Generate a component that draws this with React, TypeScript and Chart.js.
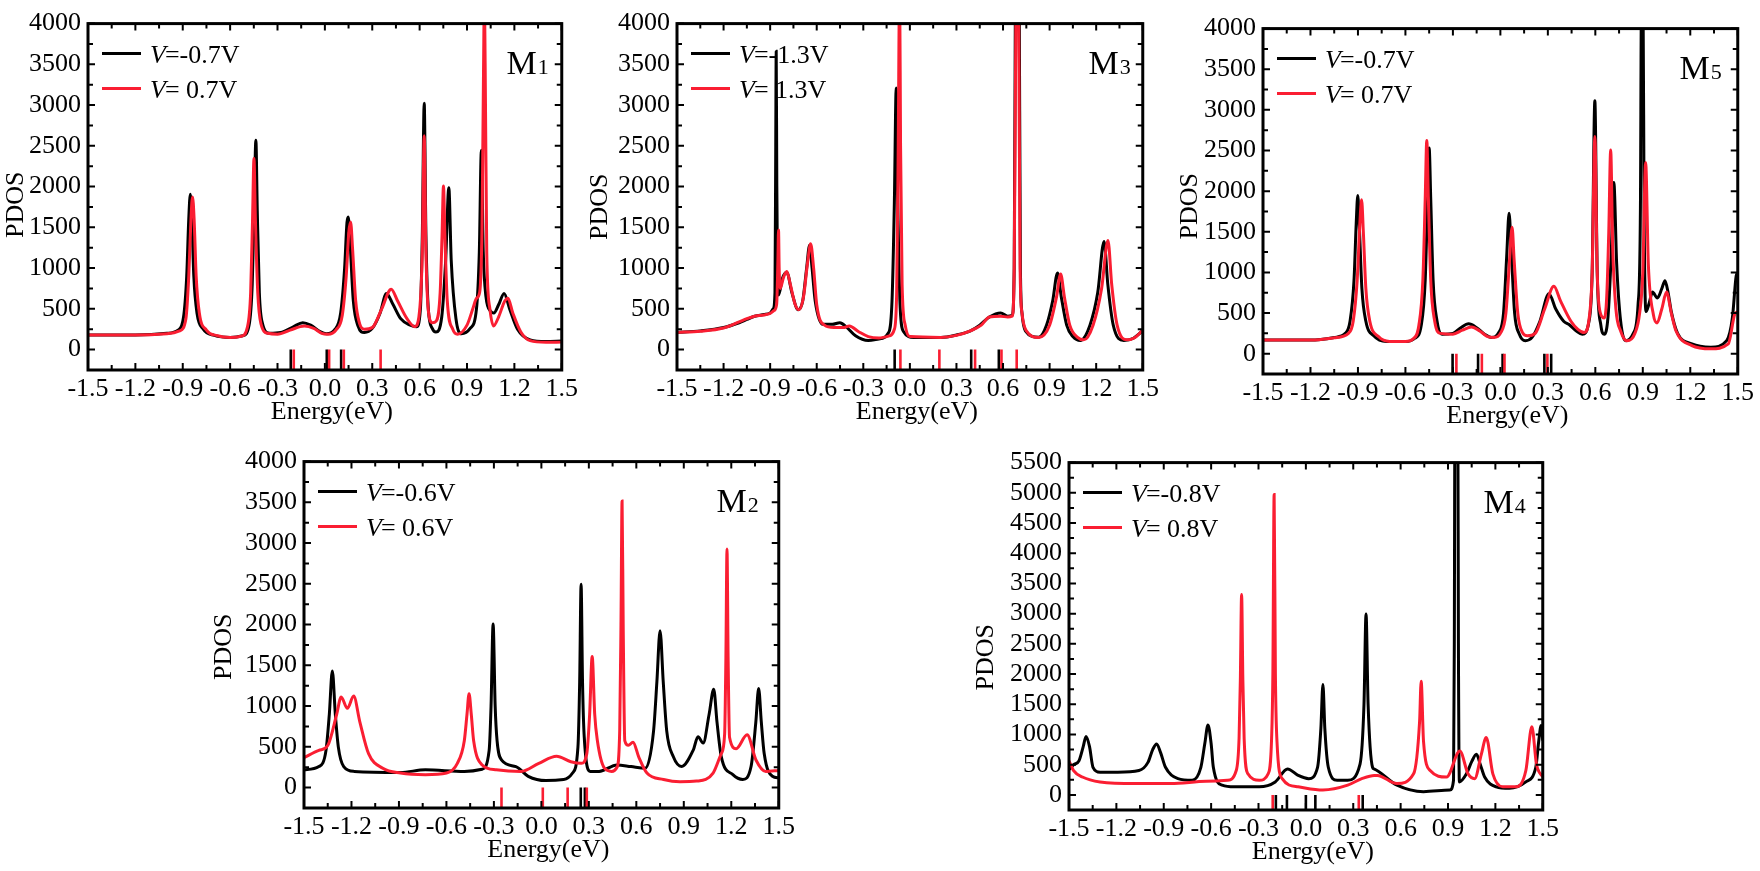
import React, { useEffect, useRef } from "react";
import { Chart, registerables } from "chart.js";

Chart.register(...registerables);

type Pt = [number, number];

// ---------- axis ticks ----------
const X_TICKS = [-1.5, -1.2, -0.9, -0.6, -0.3, 0, 0.3, 0.6, 0.9, 1.2, 1.5];
const Y_TICKS_4000 = [0, 500, 1000, 1500, 2000, 2500, 3000, 3500, 4000];
const Y_TICKS_5500 = [0, 500, 1000, 1500, 2000, 2500, 3000, 3500, 4000, 4500, 5000, 5500];
const Y_MIN = -250;

// ---------- M1 ----------
const M1_LEGEND = ["=-0.7V", "= 0.7V"];
const M1_NEG: Pt[] = [[-1.5,180],[-1.2,180],[-1.0,200],[-0.93,240],[-0.895,400],[-0.875,900],[-0.862,1600],[-0.852,1906],[-0.842,1600],[-0.83,900],[-0.81,450],[-0.77,250],[-0.7,175],[-0.6,150],[-0.52,170],[-0.48,300],[-0.46,800],[-0.448,1700],[-0.437,2570],[-0.428,1700],[-0.415,700],[-0.395,320],[-0.35,200],[-0.28,210],[-0.2,280],[-0.14,330],[-0.09,300],[-0.03,220],[0.01,195],[0.06,240],[0.1,450],[0.125,1000],[0.14,1560],[0.148,1627],[0.16,1300],[0.18,600],[0.21,290],[0.25,210],[0.3,260],[0.35,450],[0.39,690],[0.43,560],[0.48,380],[0.54,300],[0.58,280],[0.605,500],[0.617,1400],[0.629,3023],[0.64,1400],[0.655,500],[0.68,260],[0.703,215],[0.74,400],[0.765,1100],[0.785,1986],[0.8,1100],[0.83,380],[0.864,195],[0.92,260],[0.96,500],[0.978,1200],[0.991,2445],[1.003,1200],[1.02,650],[1.05,470],[1.07,450],[1.1,550],[1.135,690],[1.17,500],[1.22,250],[1.3,120],[1.4,100],[1.5,105]];
const M1_POS: Pt[] = [[-1.5,180],[-1.2,180],[-1.0,195],[-0.92,230],[-0.88,380],[-0.862,900],[-0.848,1600],[-0.838,1874],[-0.828,1600],[-0.815,900],[-0.795,450],[-0.75,240],[-0.68,170],[-0.6,150],[-0.53,165],[-0.49,280],[-0.47,700],[-0.458,1600],[-0.449,2345],[-0.44,1600],[-0.425,700],[-0.405,320],[-0.36,200],[-0.3,190],[-0.22,240],[-0.13,290],[-0.07,260],[-0.02,200],[0.02,190],[0.07,240],[0.11,420],[0.135,900],[0.152,1450],[0.163,1567],[0.175,1250],[0.195,600],[0.22,320],[0.25,250],[0.3,270],[0.36,500],[0.42,742],[0.46,600],[0.52,380],[0.57,280],[0.6,480],[0.617,1200],[0.629,2624],[0.64,1200],[0.655,480],[0.68,330],[0.705,350],[0.73,700],[0.742,1400],[0.751,2006],[0.76,1400],[0.775,600],[0.81,250],[0.84,190],[0.9,300],[0.94,520],[0.96,630],[0.98,700],[0.995,1500],[1.005,3500],[1.01,4300],[1.015,3500],[1.025,1200],[1.045,500],[1.068,290],[1.1,400],[1.14,600],[1.159,630],[1.19,450],[1.24,220],[1.3,110],[1.4,90],[1.5,92]];
const M1_NEG_LEVELS = [-0.216, 0.012, 0.103];
const M1_POS_LEVELS = [-0.197, 0.027, 0.12, 0.353];

// ---------- M3 ----------
const M3_LEGEND = ["=-1.3V", "= 1.3V"];
const M3_NEG: Pt[] = [[-1.5,211],[-1.35,230],[-1.2,271],[-1.1,330],[-1.05,370],[-1.0,410],[-0.94,430],[-0.9,450],[-0.88,500],[-0.869,700],[-0.864,2500],[-0.861,3661],[-0.857,2000],[-0.852,800],[-0.846,670],[-0.82,880],[-0.793,950],[-0.76,700],[-0.72,490],[-0.69,600],[-0.665,1000],[-0.646,1280],[-0.63,1000],[-0.61,600],[-0.561,311],[-0.5,310],[-0.451,330],[-0.41,280],[-0.35,170],[-0.268,112],[-0.2,130],[-0.14,200],[-0.115,600],[-0.1,1800],[-0.088,3210],[-0.078,1800],[-0.062,500],[-0.04,220],[0.024,150],[0.2,150],[0.3,180],[0.39,231],[0.45,300],[0.512,400],[0.585,450],[0.63,410],[0.659,420],[0.672,1000],[0.68,4500],[0.686,6000],[0.698,6000],[0.704,4500],[0.712,1000],[0.722,450],[0.744,231],[0.829,152],[0.88,300],[0.92,600],[0.951,941],[0.975,650],[1.01,300],[1.05,160],[1.098,112],[1.16,300],[1.21,700],[1.251,1328],[1.275,800],[1.31,300],[1.378,112],[1.44,140],[1.5,231]];
const M3_POS: Pt[] = [[-1.5,211],[-1.35,225],[-1.2,265],[-1.1,340],[-1.05,380],[-1.0,410],[-0.94,425],[-0.9,445],[-0.875,480],[-0.858,560],[-0.85,1100],[-0.846,1468],[-0.842,1000],[-0.835,750],[-0.815,880],[-0.793,957],[-0.77,800],[-0.74,560],[-0.715,490],[-0.685,650],[-0.66,1050],[-0.639,1300],[-0.62,1000],[-0.6,550],[-0.55,300],[-0.49,270],[-0.43,270],[-0.39,290],[-0.33,220],[-0.268,160],[-0.2,143],[-0.13,170],[-0.1,250],[-0.085,700],[-0.075,2500],[-0.066,4500],[-0.06,2500],[-0.05,800],[-0.03,300],[0.0,160],[0.2,150],[0.3,175],[0.39,231],[0.46,300],[0.512,400],[0.585,410],[0.63,400],[0.659,410],[0.672,1000],[0.684,4500],[0.692,6000],[0.7,4500],[0.71,1000],[0.722,450],[0.75,231],[0.83,150],[0.9,300],[0.945,650],[0.971,929],[0.995,650],[1.03,300],[1.08,150],[1.12,120],[1.18,300],[1.235,750],[1.276,1340],[1.3,800],[1.335,300],[1.4,120],[1.45,150],[1.5,240]];
const M3_NEG_LEVELS = [-0.098, 0.395, 0.573];
const M3_POS_LEVELS = [-0.061, 0.19, 0.42, 0.59, 0.688];

// ---------- M5 ----------
const M5_LEGEND = ["=-0.7V", "= 0.7V"];
const M5_NEG: Pt[] = [[-1.5,167],[-1.2,167],[-1.05,200],[-0.98,250],[-0.95,400],[-0.925,900],[-0.911,1600],[-0.901,1946],[-0.89,1500],[-0.875,800],[-0.85,400],[-0.8,220],[-0.72,150],[-0.6,150],[-0.54,190],[-0.5,350],[-0.475,900],[-0.46,1900],[-0.45,2532],[-0.44,1900],[-0.425,900],[-0.4,400],[-0.369,240],[-0.3,250],[-0.25,320],[-0.201,367],[-0.15,320],[-0.1,240],[-0.057,200],[-0.01,260],[0.02,500],[0.04,1200],[0.055,1727],[0.068,1300],[0.09,500],[0.12,240],[0.158,160],[0.2,200],[0.25,400],[0.307,738],[0.35,550],[0.4,400],[0.434,359],[0.48,280],[0.518,240],[0.56,400],[0.58,1000],[0.597,3111],[0.612,1000],[0.635,350],[0.657,240],[0.68,450],[0.7,1200],[0.717,2106],[0.735,1100],[0.76,400],[0.793,160],[0.84,250],[0.87,600],[0.885,1800],[0.891,4200],[0.902,4200],[0.908,1800],[0.92,518],[0.94,620],[0.961,758],[0.992,686],[1.02,800],[1.04,897],[1.06,750],[1.08,518],[1.12,250],[1.21,120],[1.33,80],[1.43,160],[1.466,439],[1.49,957],[1.5,1000]];
const M5_POS: Pt[] = [[-1.5,167],[-1.2,167],[-1.05,195],[-0.96,250],[-0.93,400],[-0.905,900],[-0.888,1600],[-0.877,1894],[-0.866,1500],[-0.85,800],[-0.825,400],[-0.77,210],[-0.7,150],[-0.6,150],[-0.55,185],[-0.515,350],[-0.49,900],[-0.475,1900],[-0.465,2624],[-0.455,1900],[-0.44,900],[-0.415,400],[-0.38,250],[-0.3,240],[-0.24,290],[-0.182,327],[-0.13,280],[-0.08,210],[-0.04,200],[0.0,250],[0.035,500],[0.058,1150],[0.074,1555],[0.087,1150],[0.11,500],[0.14,260],[0.17,220],[0.22,250],[0.28,550],[0.338,830],[0.38,650],[0.446,399],[0.49,300],[0.53,260],[0.56,420],[0.58,1000],[0.597,2672],[0.612,1000],[0.632,500],[0.657,439],[0.672,700],[0.685,1500],[0.697,2505],[0.71,1300],[0.73,550],[0.76,280],[0.8,160],[0.85,250],[0.88,500],[0.9,1000],[0.918,2353],[0.935,1100],[0.967,479],[0.99,379],[1.02,550],[1.05,758],[1.08,500],[1.11,279],[1.21,100],[1.33,60],[1.44,120],[1.48,479],[1.5,520]];
const M5_NEG_LEVELS = [-0.302, -0.141, 0.014, 0.278, 0.321];
const M5_POS_LEVELS = [-0.278, -0.117, 0.026, 0.297];

// ---------- M2 ----------
const M2_LEGEND = ["=-0.6V", "= 0.6V"];
const M2_NEG: Pt[] = [[-1.5,218],[-1.406,258],[-1.361,457],[-1.34,900],[-1.321,1430],[-1.302,900],[-1.283,497],[-1.249,258],[-1.182,199],[-0.89,187],[-0.733,218],[-0.487,199],[-0.374,226],[-0.33,457],[-0.318,1000],[-0.305,2006],[-0.292,1000],[-0.28,576],[-0.251,338],[-0.161,258],[-0.083,139],[0.029,87],[0.141,99],[0.197,179],[0.231,497],[0.242,1300],[0.251,2494],[0.26,1300],[0.271,616],[0.309,199],[0.365,199],[0.478,278],[0.567,258],[0.657,239],[0.709,697],[0.73,1300],[0.75,1924],[0.77,1300],[0.792,697],[0.834,378],[0.886,259],[0.959,458],[0.99,625],[1.022,546],[1.06,900],[1.089,1207],[1.11,800],[1.137,378],[1.21,159],[1.273,100],[1.325,259],[1.355,800],[1.373,1215],[1.39,800],[1.408,418],[1.46,139],[1.5,120]];
const M2_POS: Pt[] = [[-1.5,369],[-1.406,457],[-1.35,516],[-1.294,894],[-1.265,1112],[-1.226,973],[-1.186,1124],[-1.148,814],[-1.092,417],[-1.002,238],[-0.89,179],[-0.733,159],[-0.599,179],[-0.531,298],[-0.487,576],[-0.47,900],[-0.457,1152],[-0.443,900],[-0.428,576],[-0.374,278],[-0.285,218],[-0.128,199],[-0.016,298],[0.096,385],[0.186,318],[0.253,298],[0.287,417],[0.305,900],[0.321,1609],[0.337,900],[0.354,576],[0.399,238],[0.444,199],[0.478,250],[0.495,700],[0.503,2000],[0.51,3518],[0.517,2000],[0.527,578],[0.55,520],[0.579,558],[0.615,378],[0.667,179],[0.772,100],[0.876,72],[0.98,80],[1.085,179],[1.137,418],[1.158,657],[1.166,1600],[1.173,2928],[1.18,1600],[1.189,618],[1.231,478],[1.3,649],[1.356,339],[1.418,199],[1.5,211]];
const M2_NEG_LEVELS = [0.249, 0.275];
const M2_POS_LEVELS = [-0.252, 0.009, 0.166, 0.287];

// ---------- M4 ----------
const M4_LEGEND = ["=-0.8V", "= 0.8V"];
const M4_NEG: Pt[] = [[-1.5,420],[-1.47,500],[-1.437,564],[-1.41,800],[-1.392,968],[-1.37,800],[-1.348,457],[-1.303,376],[-1.191,376],[-1.057,403],[-1.0,538],[-0.97,750],[-0.945,844],[-0.92,700],[-0.889,457],[-0.81,269],[-0.72,242],[-0.665,457],[-0.64,850],[-0.62,1156],[-0.6,850],[-0.586,457],[-0.53,161],[-0.452,134],[-0.295,134],[-0.194,215],[-0.116,430],[-0.049,323],[0.018,269],[0.074,457],[0.095,1100],[0.108,1828],[0.12,1100],[0.142,457],[0.198,242],[0.265,242],[0.343,511],[0.368,1500],[0.381,2994],[0.394,1500],[0.422,457],[0.431,430],[0.577,161],[0.745,54],[0.912,81],[0.935,242],[0.94,2500],[0.944,6500],[0.962,6500],[0.966,2500],[0.972,215],[1.017,349],[1.05,550],[1.08,672],[1.105,500],[1.132,296],[1.205,134],[1.289,108],[1.393,215],[1.456,457],[1.475,900],[1.49,1150],[1.5,900]];
const M4_POS: Pt[] = [[-1.5,564],[-1.471,403],[-1.415,296],[-1.303,215],[-1.079,188],[-0.855,188],[-0.631,226],[-0.497,242],[-0.441,403],[-0.423,941],[-0.415,1900],[-0.407,3317],[-0.399,1900],[-0.391,941],[-0.367,349],[-0.295,242],[-0.239,349],[-0.217,941],[-0.209,2000],[-0.201,4973],[-0.193,2000],[-0.183,887],[-0.15,269],[-0.049,134],[0.108,81],[0.265,161],[0.354,269],[0.433,323],[0.452,323],[0.577,188],[0.682,349],[0.72,1210],[0.73,1882],[0.745,887],[0.787,403],[0.891,296],[0.975,726],[1.027,349],[1.069,269],[1.111,672],[1.142,952],[1.184,349],[1.247,134],[1.331,134],[1.393,403],[1.431,1129],[1.46,511],[1.5,296]];
const M4_NEG_LEVELS = [-0.19, -0.12, 0.0, 0.06, 0.36];
const M4_POS_LEVELS = [-0.21, 0.335];

// ---------- styling / layout ----------
const FONT = '"Liberation Serif", "Times New Roman", Times, serif';
const FS = 26;
const BLACK = "#000000";
const RED = "#fa1e32";
const PADL = 100;
const PADR = 16;
const PADT = 14;
const PADB = 60;

interface Panel {
  name: string;
  sub: string;
  legend: string[];
  neg: Pt[];
  pos: Pt[];
  negLevels: number[];
  posLevels: number[];
  yTicks: number[];
  box: { left: number; top: number; right: number; bottom: number };
  pdosDx: number;
  pdosDy: number;
  labelGap: number;
}

const PANELS: Panel[] = [
  { name: "M", sub: "1", legend: M1_LEGEND, neg: M1_NEG, pos: M1_POS, negLevels: M1_NEG_LEVELS, posLevels: M1_POS_LEVELS, yTicks: Y_TICKS_4000, box: { left: 88, top: 15, right: 566, bottom: 370 }, pdosDx: 72, pdosDy: 8, labelGap: 13 },
  { name: "M", sub: "3", legend: M3_LEGEND, neg: M3_NEG, pos: M3_POS, negLevels: M3_NEG_LEVELS, posLevels: M3_POS_LEVELS, yTicks: Y_TICKS_4000, box: { left: 677, top: 15, right: 1147, bottom: 370 }, pdosDx: 77, pdosDy: 10, labelGap: 12 },
  { name: "M", sub: "5", legend: M5_LEGEND, neg: M5_NEG, pos: M5_POS, negLevels: M5_NEG_LEVELS, posLevels: M5_POS_LEVELS, yTicks: Y_TICKS_4000, box: { left: 1263, top: 20, right: 1742, bottom: 374 }, pdosDx: 73, pdosDy: 5, labelGap: 16 },
  { name: "M", sub: "2", legend: M2_LEGEND, neg: M2_NEG, pos: M2_POS, negLevels: M2_NEG_LEVELS, posLevels: M2_POS_LEVELS, yTicks: Y_TICKS_4000, box: { left: 304, top: 453, right: 783, bottom: 808 }, pdosDx: 80, pdosDy: 12, labelGap: 20 },
  { name: "M", sub: "4", legend: M4_LEGEND, neg: M4_NEG, pos: M4_POS, negLevels: M4_NEG_LEVELS, posLevels: M4_POS_LEVELS, yTicks: Y_TICKS_5500, box: { left: 1069, top: 454, right: 1547, bottom: 810 }, pdosDx: 83, pdosDy: 21, labelGap: 17 },
];

function levelData(levels: number[]) {
  const out: { x: number; y: number | null }[] = [];
  for (const v of levels) {
    out.push({ x: v, y: Y_MIN });
    out.push({ x: v, y: 0 });
    out.push({ x: v, y: null });
  }
  return out;
}

function makeDecor(p: Panel) {
  return {
    id: "decor",
    beforeDatasetsDraw(chart: any) {
      const { ctx, chartArea: a } = chart;
      ctx.save();
      const rows = [
        { color: BLACK, text: p.legend[0], y: a.top + 30 },
        { color: RED, text: p.legend[1], y: a.top + 65 },
      ];
      for (const r of rows) {
        ctx.strokeStyle = r.color;
        ctx.lineWidth = 3;
        ctx.beginPath();
        ctx.moveTo(a.left + 14, r.y);
        ctx.lineTo(a.left + 53, r.y);
        ctx.stroke();
        ctx.fillStyle = BLACK;
        ctx.textAlign = "left";
        ctx.textBaseline = "alphabetic";
        ctx.font = `italic ${FS}px ${FONT}`;
        const tx = a.left + 62;
        ctx.fillText("V", tx, r.y + 9);
        const w = ctx.measureText("V").width;
        ctx.font = `${FS}px ${FONT}`;
        ctx.fillText(r.text, tx + w - 1, r.y + 9);
      }
      ctx.restore();
    },
    afterDatasetsDraw(chart: any) {
      const { ctx, chartArea: a, scales } = chart;
      const xs = scales.x;
      const ys = scales.y;
      ctx.save();
      ctx.strokeStyle = BLACK;
      ctx.lineWidth = 3;
      ctx.strokeRect(a.left, a.top, a.right - a.left, a.bottom - a.top);
      ctx.lineWidth = 2;
      const xMinor: number[] = [];
      for (let i = 0; i < X_TICKS.length - 1; i++) xMinor.push((X_TICKS[i] + X_TICKS[i + 1]) / 2);
      const drawX = (v: number, len: number) => {
        const px = xs.getPixelForValue(v);
        ctx.beginPath();
        ctx.moveTo(px, a.bottom);
        ctx.lineTo(px, a.bottom - len);
        ctx.moveTo(px, a.top);
        ctx.lineTo(px, a.top + len);
        ctx.stroke();
      };
      X_TICKS.forEach((v) => drawX(v, 7));
      xMinor.forEach((v) => drawX(v, 5));
      const yMinor: number[] = [];
      for (let i = 0; i < p.yTicks.length - 1; i++) yMinor.push((p.yTicks[i] + p.yTicks[i + 1]) / 2);
      const drawY = (v: number, len: number) => {
        const py = ys.getPixelForValue(v);
        ctx.beginPath();
        ctx.moveTo(a.left, py);
        ctx.lineTo(a.left + len, py);
        ctx.moveTo(a.right, py);
        ctx.lineTo(a.right - len, py);
        ctx.stroke();
      };
      p.yTicks.forEach((v) => drawY(v, 7));
      yMinor.forEach((v) => drawY(v, 5));
      ctx.fillStyle = BLACK;
      ctx.textBaseline = "alphabetic";
      ctx.textAlign = "right";
      ctx.font = `22px ${FONT}`;
      const subW = ctx.measureText(p.sub).width;
      const rx = a.right - p.labelGap;
      const by = a.top + 50;
      ctx.fillText(p.sub, rx, by);
      ctx.font = `34px ${FONT}`;
      ctx.fillText(p.name, rx - subW - 1, by);
      ctx.restore();
    },
    afterDraw(chart: any) {
      const { ctx, chartArea: a } = chart;
      ctx.save();
      ctx.fillStyle = BLACK;
      ctx.font = `${FS}px ${FONT}`;
      ctx.textAlign = "center";
      ctx.textBaseline = "middle";
      ctx.fillText("Energy(eV)", (a.left + a.right) / 2 + 7, a.bottom + 42);
      ctx.translate(a.left - p.pdosDx, (a.top + a.bottom) / 2 + p.pdosDy);
      ctx.rotate(-Math.PI / 2);
      ctx.fillText("PDOS", 0, 0);
      ctx.restore();
    },
  };
}

function PanelChart({ p }: { p: Panel }) {
  const ref = useRef<HTMLCanvasElement>(null);
  const w = PADL + (p.box.right - p.box.left) + PADR;
  const h = PADT + (p.box.bottom - p.box.top) + PADB;
  useEffect(() => {
    if (!ref.current) return;
    const yMax = p.yTicks[p.yTicks.length - 1];
    const curve = (pts: Pt[], color: string) => ({
      data: pts.map(([x, y]) => ({ x, y })),
      borderColor: color,
      backgroundColor: color,
      borderWidth: 3,
      pointRadius: 0,
      cubicInterpolationMode: "monotone" as const,
      clip: 0,
      fill: false,
    });
    const levels = (vals: number[], color: string) => ({
      data: levelData(vals),
      borderColor: color,
      backgroundColor: color,
      borderWidth: 2.6,
      pointRadius: 0,
      spanGaps: false,
      clip: 0,
      fill: false,
    });
    const chart = new Chart(ref.current, {
      type: "line",
      data: {
        datasets: [
          curve(p.pos, RED),
          curve(p.neg, BLACK),
          levels(p.posLevels, RED),
          levels(p.negLevels, BLACK),
        ] as any,
      },
      options: {
        responsive: false,
        animation: false,
        events: [],
        layout: { padding: { left: 0, right: PADR, top: PADT, bottom: 0 } },
        plugins: { legend: { display: false }, tooltip: { enabled: false } },
        scales: {
          x: {
            type: "linear",
            min: -1.5,
            max: 1.5,
            grid: { display: false, drawTicks: false },
            border: { display: false },
            afterBuildTicks: (s: any) => {
              s.ticks = X_TICKS.map((v) => ({ value: v }));
            },
            afterFit: (s: any) => {
              s.height = PADB;
            },
            ticks: {
              autoSkip: false,
              maxRotation: 0,
              minRotation: 0,
              padding: 4,
              color: BLACK,
              font: { family: FONT, size: FS },
              callback: (v: any) => Number(v).toFixed(1),
            },
          },
          y: {
            type: "linear",
            min: Y_MIN,
            max: yMax,
            grid: { display: false, drawTicks: false },
            border: { display: false },
            afterBuildTicks: (s: any) => {
              s.ticks = p.yTicks.map((v) => ({ value: v }));
            },
            afterFit: (s: any) => {
              s.width = PADL;
            },
            ticks: {
              autoSkip: false,
              padding: 7,
              color: BLACK,
              font: { family: FONT, size: FS },
              callback: (v: any) => String(v),
            },
          },
        },
      } as any,
      plugins: [makeDecor(p)],
    });
    return () => chart.destroy();
  }, [p]);
  return (
    <canvas
      ref={ref}
      width={w}
      height={h}
      style={{ position: "absolute", left: p.box.left - PADL, top: p.box.top - PADT, width: w, height: h }}
    />
  );
}

export default function App() {
  return (
    <div style={{ position: "absolute", left: 0, top: 0, width: 1760, height: 871, overflow: "hidden", background: "#fff" }}>
      {PANELS.map((p, i) => (
        <PanelChart key={i} p={p} />
      ))}
    </div>
  );
}
